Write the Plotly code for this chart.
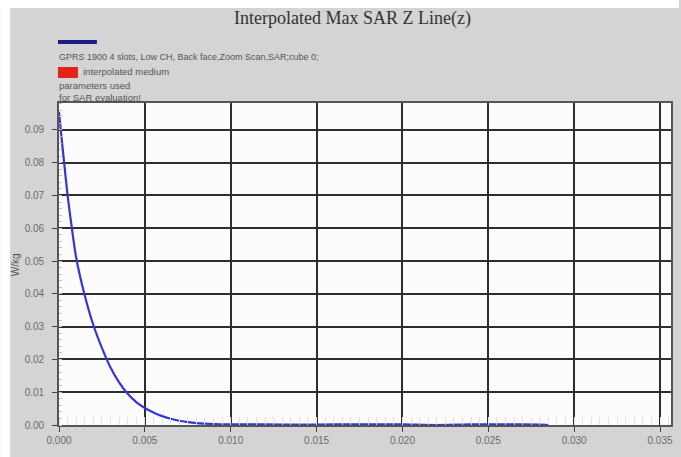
import plotly.graph_objects as go

# Data
z_m = [0.0, 0.0001, 0.0003, 0.0005, 0.00075, 0.001, 0.0015, 0.002, 0.0025, 0.003,
       0.0035, 0.004, 0.0045, 0.005, 0.0055, 0.006, 0.0065, 0.007, 0.0075, 0.008,
       0.009, 0.010, 0.012, 0.014, 0.016, 0.018, 0.020, 0.022, 0.024, 0.026, 0.028, 0.0285]
sar_wkg = [0.0955, 0.090, 0.080, 0.070, 0.060, 0.051, 0.0395, 0.0305, 0.0235, 0.0175,
           0.013, 0.0095, 0.007, 0.0052, 0.0038, 0.0027, 0.0019, 0.0013, 0.0009, 0.0006,
           0.0003, 0.0002, 0.0002, 0.0001, 0.0002, 0.0002, 0.0002, 0.0, 0.0002, 0.0002, 0.0001, 0.0]

x_ticks = [0.000, 0.005, 0.010, 0.015, 0.020, 0.025, 0.030, 0.035]
x_tick_labels = ["0.000", "0.005", "0.010", "0.015", "0.020", "0.025", "0.030", "0.035"]
y_ticks = [0.00, 0.01, 0.02, 0.03, 0.04, 0.05, 0.06, 0.07, 0.08, 0.09]
y_tick_labels = ["0.00", "0.01", "0.02", "0.03", "0.04", "0.05", "0.06", "0.07", "0.08", "0.09"]

title_text = "Interpolated Max SAR Z Line(z)"
series_name = "GPRS 1900 4 slots, Low CH, Back face,Zoom Scan,SAR;cube 0;"
note_lines = ["interpolated medium", "parameters used", "for SAR evaluation!"]

W, H = 681, 457
L, R, T, B = 59, 673, 103, 425


def px(x):
    return (x - L) / (R - L)


def py(y):
    return (B - y) / (B - T)


fig = go.Figure()
fig.add_trace(go.Scatter(x=z_m, y=sar_wkg, mode="lines",
                         line=dict(color="#3535d8", width=2.2, shape="spline", smoothing=0.6),
                         showlegend=False, hoverinfo="skip"))

axis_common = dict(showgrid=True, gridcolor="#2e2e2e", gridwidth=1.8,
                   showline=True, linecolor="#555555", linewidth=1.6, mirror=True,
                   zeroline=False, ticks="outside", ticklen=5, tickcolor="#444444",
                   tickfont=dict(family="Liberation Sans", size=10, color="#6a6a6a"))

fig.update_xaxes(range=[0, 0.03564], tickvals=x_ticks, ticktext=x_tick_labels,
                 minor=dict(ticks="inside", ticklen=8, tickcolor="#e2e2e2", dtick=0.0005),
                 **axis_common)
fig.update_yaxes(range=[0, 0.0982], tickvals=y_ticks, ticktext=y_tick_labels,
                 ticklabelstandoff=6,
                 minor=dict(ticks="inside", ticklen=3, tickcolor="#c4c4c4", dtick=0.002),
                 **axis_common)

shapes = [
    # white strips at top and left of the gray panel
    dict(type="rect", xref="paper", yref="paper", x0=px(0), x1=px(W), y0=py(0), y1=py(8),
         fillcolor="white", line=dict(width=0), layer="below"),
    dict(type="rect", xref="paper", yref="paper", x0=px(0), x1=px(10), y0=py(0), y1=py(H),
         fillcolor="white", line=dict(width=0), layer="below"),
    # legend marks
    dict(type="line", xref="paper", yref="paper", x0=px(58), x1=px(97), y0=py(42), y1=py(42),
         line=dict(color="#1c1c8a", width=4)),
    dict(type="rect", xref="paper", yref="paper", x0=px(58), x1=px(78), y0=py(67), y1=py(78),
         fillcolor="#e4231b", line=dict(width=0)),
]

annotations = [
    dict(text=title_text, xref="paper", yref="paper", x=px(353), y=py(19),
         xanchor="center", yanchor="middle", showarrow=False,
         font=dict(family="Liberation Serif", size=18, color="#333333")),
    dict(text=series_name, xref="paper", yref="paper", x=px(57), y=py(57),
         xanchor="left", yanchor="middle", showarrow=False,
         font=dict(family="Liberation Sans", size=9, color="#555555")),
    dict(text=note_lines[0], xref="paper", yref="paper", x=px(81), y=py(71),
         xanchor="left", yanchor="middle", showarrow=False,
         font=dict(family="Liberation Sans", size=9.5, color="#555555")),
    dict(text=note_lines[1], xref="paper", yref="paper", x=px(57), y=py(85),
         xanchor="left", yanchor="middle", showarrow=False,
         font=dict(family="Liberation Sans", size=9.5, color="#555555")),
    dict(text=note_lines[2], xref="paper", yref="paper", x=px(57), y=py(97),
         xanchor="left", yanchor="middle", showarrow=False,
         font=dict(family="Liberation Sans", size=9.5, color="#555555")),
    dict(text="W/kg", xref="paper", yref="paper", x=px(15), y=py(265), textangle=-90,
         xanchor="center", yanchor="middle", showarrow=False,
         font=dict(family="Liberation Sans", size=10, color="#555555")),
]

fig.update_layout(width=W, height=H,
                  margin=dict(l=L, r=W - R, t=T, b=H - B, pad=0),
                  paper_bgcolor="#d4d4d4", plot_bgcolor="#fcfcfc",
                  shapes=shapes, annotations=annotations)

fig.write_html("out.html")
